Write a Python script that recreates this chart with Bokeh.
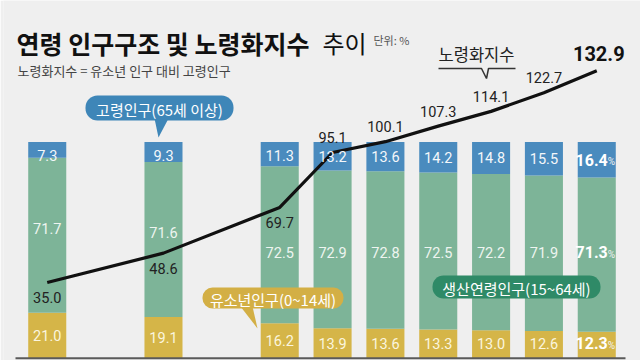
from bokeh.plotting import figure
from bokeh.models import FactorRange, Range1d, ColumnDataSource, Label, BoxAnnotation, PolyAnnotation
from bokeh.core.properties import value
from bokeh.embed import file_html
from bokeh.resources import INLINE

# ---- data (unit: %) ----
years = ["2000", "2005", "2010", "2015", "2016", "2017", "2018", "2019", "2020"]
youth = [21.0, 19.1, 16.2, 13.9, 13.6, 13.3, 13.0, 12.6, 12.3]        # 유소년인구(0~14세)
working = [71.7, 71.6, 72.5, 72.9, 72.8, 72.5, 72.2, 71.9, 71.3]      # 생산연령인구(15~64세)
elderly = [7.3, 9.3, 11.3, 13.2, 13.6, 14.2, 14.8, 15.5, 16.4]        # 고령인구(65세 이상)
aging = [35.0, 48.6, 69.7, 95.1, 100.1, 107.3, 114.1, 122.7, 132.9]   # 노령화지수

# 5-year steps first, then yearly steps: group so that group padding widens the early gaps
period = [y if int(y) < 2010 else "2010-2020" for y in years]
factors = list(zip(period, years))

BG = "#efefef"
C_OLD = "#4a8bbe"
C_WORK = "#7db498"
C_YOUNG = "#d5b548"
KR = "Noto Sans CJK KR"
NUM = "Roboto"

W, H = 640, 360
LEFT = 3
GP = 1.2
RP = 0.0575
Y0, Y1 = -1.02, 165.34

x_range = FactorRange(*factors, group_padding=GP, range_padding=RP, range_padding_units="percent")
p = figure(width=W, height=H, x_range=x_range, y_range=Range1d(Y0, Y1),
           output_backend="svg", toolbar_location=None,
           x_axis_location=None, y_axis_location=None,
           min_border=0, min_border_left=LEFT)
p.grid.visible = False
p.outline_line_color = None
p.background_fill_color = BG
p.border_fill_color = BG

# helpers: pixel position -> data coordinates (for decorations only)
TOTAL = len(years) + GP * (len(set(period)) - 1)
SX = (W - LEFT) / (TOTAL * (1 + RP))
X0 = -TOTAL * RP / 2
SY = H / (Y1 - Y0)
def ax(px):
    return X0 + (px - LEFT) / SX
def ay(py):
    return Y1 - py / SY

n = len(years)
src = ColumnDataSource(dict(x=factors, youth=youth, working=working, elderly=elderly, aging=aging))
p.vbar_stack(["youth", "working", "elderly"], x="x", width=0.72, source=src,
             color=[C_YOUNG, C_WORK, C_OLD], line_color=None)

# baseline
p.line(x=[ax(15), ax(625)], y=[0, 0], line_color="#5a5a5a", line_width=2)

p.line(x=factors, y=aging, line_width=3.2, line_color="#111111", line_join="round")

# ---- segment labels (all but last bar) ----
k = n - 1
old_y = [100 - max(v, 13) / 2 for v in elderly]
work_y = [(youth[i] + working[i] / 2 + 3) if i < 2 else 49 for i in range(n)]
young_y = [max(v / 2, 7) for v in youth]

def seg_labels(ys, vals, color):
    p.text(x=factors[:k], y=ys[:k], text=[f"{v:.1f}" for v in vals[:k]],
           text_font=value(NUM), text_font_size="14.5px", text_color=color,
           text_align="center", text_baseline="middle")

seg_labels(old_y, elderly, "#f4f7fa")
seg_labels(work_y, working, "#eef4f0")
seg_labels(young_y, youth, "#fbf5df")

# last bar: bold values with small %
for ys, vals in ((old_y, elderly), (work_y, working), (young_y, youth)):
    p.text(x=[factors[k]], y=[ys[k]], text=[f"{vals[k]:.1f}"], x_offset=11,
           text_font=value(NUM), text_font_size="16px", text_font_style="bold",
           text_color="#ffffff", text_align="right", text_baseline="middle")
    p.text(x=[factors[k]], y=[ys[k]], text=["%"], x_offset=11, y_offset=2,
           text_font=value(NUM), text_font_size="10px", text_color="#f2f2f2",
           text_align="left", text_baseline="middle")

# ---- aging index labels ----
below = [v < 90 for v in aging]
p.text(x=[f for f, b in zip(factors[:k], below[:k]) if b], y=[v for v, b in zip(aging[:k], below[:k]) if b],
       text=[f"{v:.1f}" for v, b in zip(aging[:k], below[:k]) if b], y_offset=15,
       text_font=value(NUM), text_font_size="14.5px", text_color="#222222",
       text_align="center", text_baseline="middle")
p.text(x=[f for f, b in zip(factors[:k], below[:k]) if not b], y=[v for v, b in zip(aging[:k], below[:k]) if not b],
       text=[f"{v:.1f}" for v, b in zip(aging[:k], below[:k]) if not b], y_offset=-15,
       text_font=value(NUM), text_font_size="14.5px", text_color="#222222",
       text_align="center", text_baseline="middle")
p.text(x=[factors[k]], y=[aging[k]], text=[f"{aging[k]:.1f}"], y_offset=-17, x_offset=2,
       text_font=value(NUM), text_font_size="20px", text_font_style="bold", text_color="#111111",
       text_align="center", text_baseline="middle")

# ---- title ----
p.add_layout(Label(x=ax(16), y=ay(42), text="연령 인구구조 및 노령화지수", text_font=KR,
                   text_font_size="25px", text_font_style="bold", text_color="#111111",
                   text_baseline="alphabetic"))
p.add_layout(Label(x=ax(322), y=ay(42), text="추이", text_font=KR,
                   text_font_size="24px", text_color="#111111", text_baseline="alphabetic"))
p.add_layout(Label(x=ax(373), y=ay(39), text="단위: %", text_font=KR,
                   text_font_size="11px", text_color="#555555", text_baseline="alphabetic"))
p.add_layout(Label(x=ax(17), y=ay(70), text="노령화지수 = 유소년 인구 대비 고령인구", text_font=KR,
                   text_font_size="13px", text_color="#444444", text_baseline="alphabetic"))

# ---- 노령화지수 callout ----
p.add_layout(Label(x=ax(476), y=ay(53), text="노령화지수", text_font=KR, text_font_size="16.5px",
                   text_color="#222222", text_align="center", text_baseline="middle"))
p.line(x=[ax(438), ax(481), ax(486), ax(488), ax(515)],
       y=[ay(68), ay(68), ay(78), ay(68), ay(68)], line_color="#333333", line_width=1.5)

# ---- bubbles ----
def bubble(l, r, t, b, color, text, tail):
    p.add_layout(BoxAnnotation(left=ax(l), right=ax(r), top=ay(t), bottom=ay(b),
                               fill_color=color, fill_alpha=1, line_color=None,
                               border_radius=int((b - t) // 2), level="overlay"))
    if tail:
        p.add_layout(PolyAnnotation(xs=[ax(px) for px, _ in tail], ys=[ay(py) for _, py in tail],
                                    fill_color=color, fill_alpha=1, line_color=None, level="overlay"))
    p.add_layout(Label(x=ax((l + r) / 2), y=ay((t + b) / 2 + 1), text=text, text_font=KR,
                       text_font_size="15px", text_color="#ffffff", text_align="center",
                       text_baseline="middle", level="overlay"))

bubble(85, 233, 95, 120, "#3e86b8", "고령인구(65세 이상)", [(154, 118), (168, 118), (158, 137)])
bubble(202, 343, 287, 308, "#d3af45", "유소년인구(0~14세)", [(240, 306), (252, 306), (257, 328)])
bubble(432, 600, 275, 298, "#2f8a67", "생산연령인구(15~64세)", None)

open("out.html", "w").write(file_html(p, INLINE))
